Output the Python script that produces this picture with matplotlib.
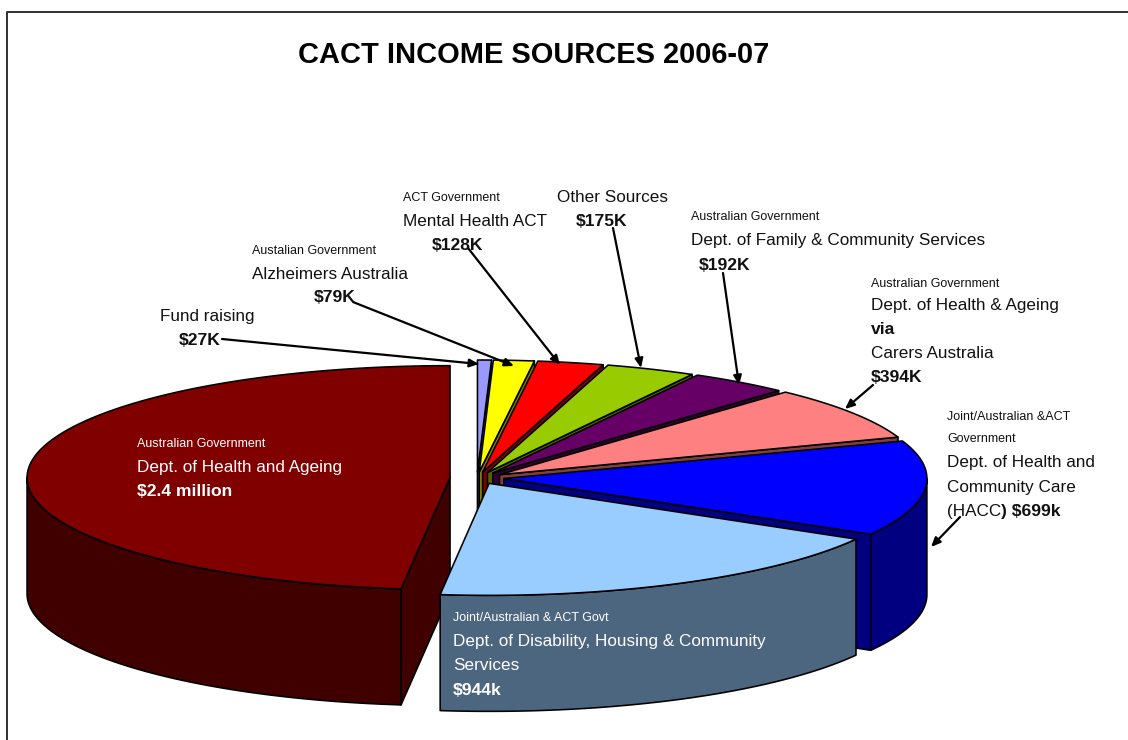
import numpy as np
import matplotlib
matplotlib.use("Agg")
import matplotlib.pyplot as plt
from matplotlib.patches import Polygon

plt.rcParams["font.family"] = ["Liberation Sans", "DejaVu Sans"]

# income per source in $K, clockwise from 12 o'clock
sources = ["Fund raising", "Alzheimers Australia", "Mental Health ACT", "Other Sources",
           "Family & Community Services", "Carers Australia", "HACC",
           "Disability, Housing & Community Services", "Health and Ageing"]
income = [27, 79, 128, 175, 192, 394, 699, 944, 2450]
slice_colors = ["#9999ff", "#ffff00", "#ff0000", "#99cc00", "#660066",
                "#ff8080", "#0000ff", "#99ccff", "#800000"]

# pie geometry in pixels
CX, CY = 477, 478
RX, RY = 423, 112
EX, EY = 27, 6
DEPTH = 116
EDGE = 1.15


def shade(color, f=0.5):
    r, g, b = matplotlib.colors.to_rgb(color)
    return (r * f, g * f, b * f)


def rim(ox, oy, t):
    return np.column_stack([ox + RX * np.sin(t), oy - RY * np.cos(t)])


def face(pts, color, z):
    ax.add_patch(Polygon(pts, closed=True, facecolor=color, edgecolor="black",
                         linewidth=EDGE, joinstyle="round", zorder=z))


def text(x, y, s, size=12.3, bold=False, color="#111111"):
    if bold and size == 12.3:
        size = 12.6
    ax.text(x, y, s, fontsize=size, fontweight="bold" if bold else "normal",
            color=color, va="baseline", ha="left", zorder=20)


def arrow(x0, y0, x1, y1):
    ax.annotate("", xy=(x1, y1), xytext=(x0, y0), zorder=15,
                arrowprops=dict(arrowstyle="-|>,head_length=0.55,head_width=0.24",
                                color="black", lw=1.6, shrinkA=0, shrinkB=0))


fig = plt.figure(figsize=(11.28, 7.4), dpi=100, facecolor="white")
ax = fig.add_axes([0, 0, 1, 1])
ax.set_xlim(0, 1128)
ax.set_ylim(740, 0)
ax.axis("off")

# chart frame, only left and top show
ax.plot([6.5, 6.5, 1128], [740, 12, 12], color="#303030", lw=1.4, zorder=1)

angles = np.cumsum([0] + income) / sum(income) * 2 * np.pi
for i, color in enumerate(slice_colors):
    t0, t1 = angles[i], angles[i + 1]
    mid = (t0 + t1) / 2
    ox = CX + EX * np.sin(mid)
    oy = CY - EY * np.cos(mid)
    apex = np.array([ox, oy])
    drop = np.array([0, DEPTH])
    # the light blue slice sits in front of everything, the big red one behind it
    z = 2 + i if i < 8 else 1.5
    if i == 7:
        z = 12

    # cut faces turned to the viewer
    if np.sin(t0) < 0:
        p = rim(ox, oy, np.array([t0]))[0]
        face([apex, p, p + drop, apex + drop], shade(color), z)
    if np.sin(t1) > 0.01:
        p = rim(ox, oy, np.array([t1]))[0]
        face([apex, p, p + drop, apex + drop], shade(color), z)

    # outer wall, front half only
    a, b = max(t0, np.pi / 2), min(t1, 3 * np.pi / 2)
    if b > a:
        arc = rim(ox, oy, np.linspace(a, b, 80))
        face(np.vstack([arc, arc[::-1] + drop]), shade(color), z)

    arc = rim(ox, oy, np.linspace(t0, t1, 100))
    face(np.vstack([apex, arc]), color, z)

ax.text(533.5, 63, "CACT INCOME SOURCES 2006-07", fontsize=20.85, fontweight="bold",
        color="black", ha="center", va="baseline", zorder=20)

# labels above the pie
text(160, 321, "Fund raising")
text(179, 345, "$27K", bold=True)
text(252, 254, "Austalian Government", size=9)
text(252, 279, "Alzheimers Australia")
text(314, 302, "$79K", bold=True)
text(403, 201, "ACT Government", size=9)
text(403, 226, "Mental Health ACT")
text(432, 250, "$128K", bold=True)
text(557, 202, "Other Sources")
text(576, 226, "$175K", bold=True)
text(691, 220, "Australian Government", size=9)
text(691, 245, "Dept. of Family & Community Services")
text(699, 270, "$192K", bold=True)
text(871, 287, "Australian Government", size=9)
text(871, 310, "Dept. of Health & Ageing")
text(871, 334, "via", bold=True)
text(871, 358, "Carers Australia")
text(871, 382, "$394K", bold=True)
text(947, 420, "Joint/Australian &ACT", size=9)
text(947, 442, "Government", size=9)
text(947, 467, "Dept. of Health and")
text(947, 492, "Community Care")
text(947, 516, "(HACC")
text(1001, 516, ") $699k", bold=True)

# labels on the big slices
text(137, 447, "Australian Government", size=9, color="white")
text(137, 472, "Dept. of Health and Ageing", color="white")
text(137, 496, "$2.4 million", bold=True, color="white")
text(453, 621, "Joint/Australian & ACT Govt", size=9, color="white")
text(453, 646, "Dept. of Disability, Housing & Community", color="white")
text(453, 670, "Services", color="white")
text(453, 695, "$944k", bold=True, color="white")

arrow(222, 339, 479, 364)
arrow(353, 302, 514, 366)
arrow(468, 248, 560, 365)
arrow(613, 228, 641, 368)
arrow(723, 273, 739, 385)
arrow(873, 385, 845, 409)
arrow(960, 517, 931, 547)

fig.savefig("out.png", dpi=100, facecolor="white")
